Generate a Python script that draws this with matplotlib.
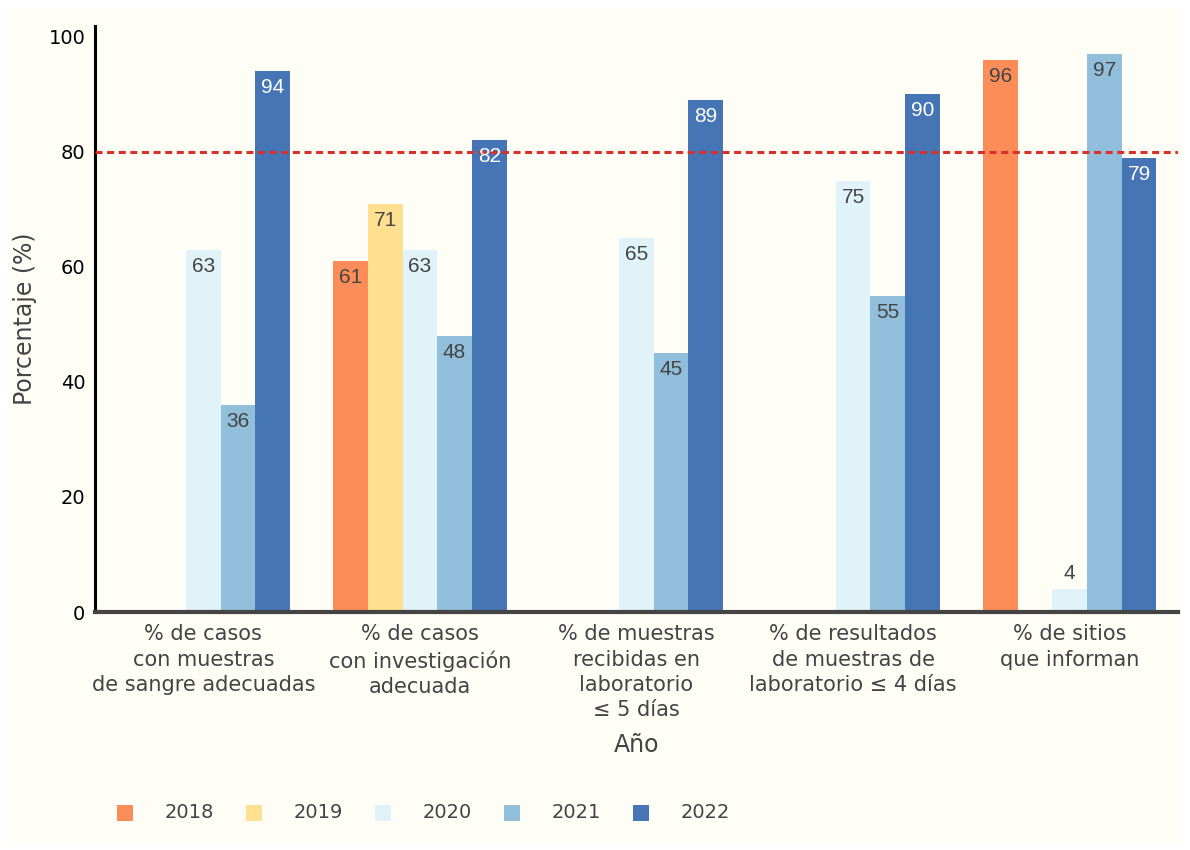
import numpy as np
import matplotlib
matplotlib.use("Agg")
import matplotlib.pyplot as plt
from matplotlib.patches import Rectangle

categories = [
    "% de casos\ncon muestras\nde sangre adecuadas",
    "% de casos\ncon investigación\nadecuada",
    "% de muestras\nrecibidas en\nlaboratorio\n≤ 5 días",
    "% de resultados\nde muestras de\nlaboratorio ≤ 4 días",
    "% de sitios\nque informan",
]
years = ["2018", "2019", "2020", "2021", "2022"]
v2018 = [np.nan, 61, np.nan, np.nan, 96]
v2019 = [np.nan, 71, np.nan, np.nan, np.nan]
v2020 = [63, 63, 65, 75, 4]
v2021 = [36, 48, 45, 55, 97]
v2022 = [94, 82, 89, 90, 79]
target = 80
series = [v2018, v2019, v2020, v2021, v2022]
colors = ["#fc8d59", "#fee090", "#e0f3f8", "#91bfdb", "#4575b4"]
text_colors = ["#444444", "#444444", "#444444", "#444444", "#ffffff"]

W, H = 1190, 850
fig = plt.figure(figsize=(W / 100, H / 100), dpi=100)
fig.patch.set_facecolor("white")
bg = "#fffef6"
fig.patches.append(Rectangle((8 / W, 8 / H), (W - 16) / W, (H - 16) / H,
                             transform=fig.transFigure, facecolor=bg,
                             edgecolor="none", zorder=-10))

ax = fig.add_axes([95 / W, (H - 612) / H, (1178 - 95) / W, (612 - 26) / H])
ax.set_facecolor(bg)

x = np.arange(len(categories))
n = len(years)
bw = 0.8 / n
for i, (yr, vals) in enumerate(zip(years, series)):
    pos = x - 0.4 + bw * (i + 0.5)
    ax.bar(pos, vals, width=bw, color=colors[i], label=yr, zorder=2, linewidth=0)
    for p, v in zip(pos, vals):
        if np.isnan(v):
            continue
        if v < 10:
            ax.annotate(f"{v:g}", (p, v), xytext=(0, 6), textcoords="offset pixels",
                        ha="center", va="bottom", fontsize=15, color="#444444", zorder=4,
                        family=["Liberation Sans", "DejaVu Sans"])
        else:
            ax.annotate(f"{v:g}", (p, v), xytext=(0, -7), textcoords="offset pixels",
                        ha="center", va="top", fontsize=15, color=text_colors[i], zorder=4,
                        family=["Liberation Sans", "DejaVu Sans"])

ax.axhline(target, color="#d9302a", linewidth=2.2, linestyle=(0, (2.3, 1.5)), zorder=3)

ax.set_xlim(-0.5, 4.5)
ax.set_ylim(0, 101.9)
ax.set_yticks([0, 20, 40, 60, 80, 100])
ax.tick_params(axis="y", length=0, pad=7, labelsize=14, labelcolor="black")
ax.set_xticks(x)
ax.set_xticklabels(categories, fontsize=15, color="#444444", linespacing=1.32)
ax.tick_params(axis="x", length=0, pad=9)

for s in ["top", "right"]:
    ax.spines[s].set_visible(False)
ax.spines["left"].set_color("black")
ax.spines["left"].set_linewidth(2.2)
ax.spines["bottom"].set_color("#444444")
ax.spines["bottom"].set_linewidth(3)
ax.spines["bottom"].set_zorder(5)

fig.text(25 / W, 1 - 319 / H, "Porcentaje (%)", rotation=90, ha="center", va="center",
         fontsize=17, color="#444444")
fig.text(637 / W, 1 - 745 / H, "Año", ha="center", va="center", fontsize=17, color="#444444")

# legend
lx0, pitch, ly = 117, 129, 813
for i, yr in enumerate(years):
    lx = lx0 + pitch * i
    fig.patches.append(Rectangle((lx / W, (H - ly - 8) / H), 16 / W, 16 / H,
                                 transform=fig.transFigure, facecolor=colors[i],
                                 edgecolor="none"))
    fig.text((lx + 48) / W, 1 - ly / H, yr, ha="left", va="center", fontsize=14,
             color="#444444")

fig.savefig("out.png", dpi=100, facecolor=fig.get_facecolor())
